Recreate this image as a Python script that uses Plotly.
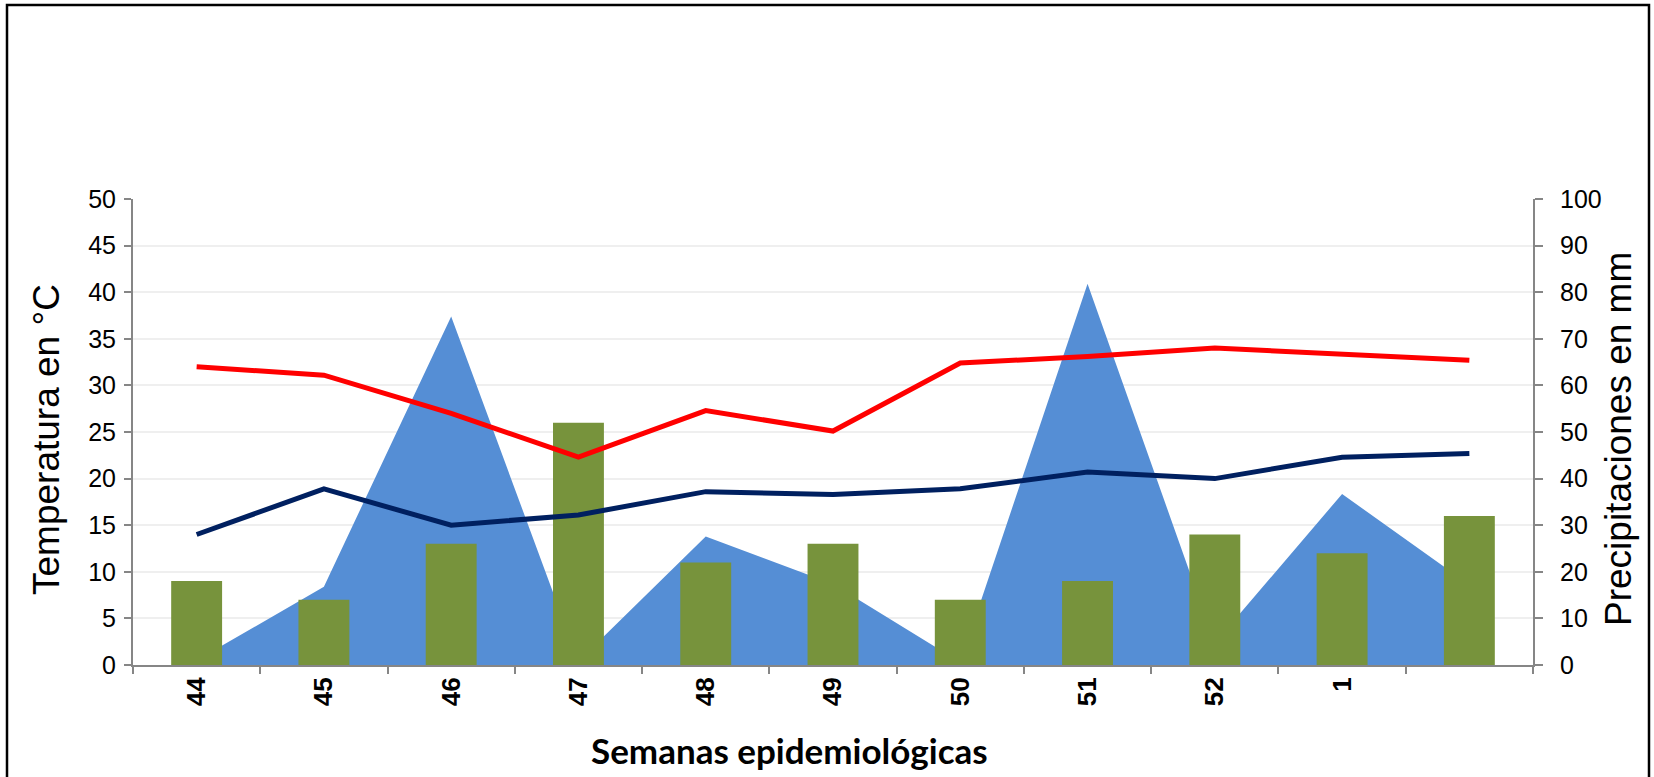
import plotly.graph_objects as go

weeks = ["44", "45", "46", "47", "48", "49", "50", "51", "52", "1", " "]
precip_mm = [1.0, 16.8, 74.8, 0.8, 27.6, 17.4, 0.6, 81.8, 4.7, 36.7, 17.2]
bars_vals = [9, 7, 13, 26, 11, 13, 7, 9, 14, 12, 16]
temp_max = [32.0, 31.1, 27.0, 22.3, 27.3, 25.1, 32.4, 33.1, 34.0, 33.4, 32.7]
temp_min = [14.0, 18.9, 15.0, 16.1, 18.6, 18.3, 18.9, 20.7, 20.0, 22.3, 22.7]

AX = "#868686"
fig = go.Figure()

fig.add_trace(go.Scatter(x=weeks, y=precip_mm, mode="none", fill="tozeroy",
                         fillcolor="#558ED5", yaxis="y", name="Precipitaciones",
                         showlegend=False, hoverinfo="x+y"))
fig.add_trace(go.Bar(x=weeks, y=bars_vals, marker=dict(color="#77933C", line=dict(width=0)),
                     yaxis="y2", showlegend=False, name="Casos"))
fig.add_trace(go.Scatter(x=weeks, y=temp_max, mode="lines", line=dict(color="#FF0000", width=5),
                         yaxis="y2", showlegend=False, name="Temp. máxima"))
fig.add_trace(go.Scatter(x=weeks, y=temp_min, mode="lines", line=dict(color="#002060", width=5),
                         yaxis="y2", showlegend=False, name="Temp. mínima"))

tickfont = dict(family="Liberation Sans, Arial, sans-serif", size=25, color="black")

fig.update_layout(
    width=1654, height=777,
    margin=dict(l=133, r=121, t=199, b=112),
    paper_bgcolor="white", plot_bgcolor="white",
    bargap=0.6,
    xaxis=dict(type="category", range=[-0.5, 10.5], tickson="boundaries",
               ticks="outside", ticklen=7, tickwidth=2, tickcolor=AX,
               showline=True, linecolor=AX, linewidth=2, showgrid=False,
               tickangle=-90, ticklabelstandoff=0,
               tickfont=dict(family="Liberation Sans, Arial, sans-serif", size=26, color="black", weight="bold")),
    yaxis=dict(range=[0, 100], side="right", dtick=10, tick0=0,
               ticks="outside", ticklen=8, tickwidth=2, tickcolor=AX,
               showline=True, linecolor=AX, linewidth=2,
               showgrid=True, gridcolor="#EFEFEF", gridwidth=2, zeroline=False,
               tickfont=tickfont, ticklabelstandoff=12),
    yaxis2=dict(range=[0, 50], side="left", overlaying="y", dtick=5, tick0=0,
                ticks="outside", ticklen=7, tickwidth=2, tickcolor=AX,
                showline=True, linecolor=AX, linewidth=2,
                showgrid=False, zeroline=False,
                tickfont=tickfont, ticklabelstandoff=3),
    annotations=[
        dict(text="Temperatura en °C", xref="paper", yref="paper",
             x=(46 - 133) / 1400, y=(665 - 440) / 466, textangle=-90, showarrow=False,
             xanchor="center", yanchor="middle",
             font=dict(family="Liberation Sans, Arial, sans-serif", size=37, color="black")),
        dict(text="Precipitaciones en mm", xref="paper", yref="paper",
             x=(1618 - 133) / 1400, y=(665 - 439) / 466, textangle=-90, showarrow=False,
             xanchor="center", yanchor="middle",
             font=dict(family="Liberation Sans, Arial, sans-serif", size=37, color="black")),
        dict(text="<b>Semanas epidemiológicas</b>", xref="paper", yref="paper",
             x=(789 - 133) / 1400, y=(665 - 750) / 466, showarrow=False,
             xanchor="center", yanchor="middle",
             font=dict(family="Lato, sans-serif", size=35, color="black")),
    ],
    shapes=[
        dict(type="rect", xref="paper", yref="paper",
             x0=(7 - 133) / 1400, x1=(1649 - 133) / 1400,
             y0=(665 - 800) / 466, y1=(665 - 5) / 466,
             line=dict(color="black", width=2.5), fillcolor="rgba(0,0,0,0)", layer="above"),
    ],
)

fig.write_html("out.html", config={"displayModeBar": False},
               post_script="document.body.style.margin='0';document.body.style.padding='0';"
                           "document.body.style.overflow='hidden';")
